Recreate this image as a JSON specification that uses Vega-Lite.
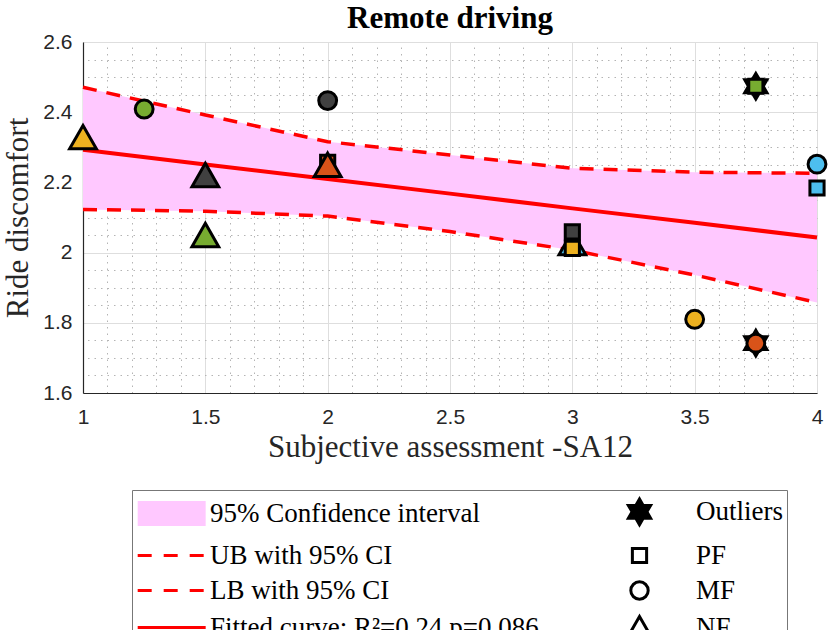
{
  "$schema": "https://vega.github.io/schema/vega-lite/v6.json",
  "width": 734,
  "height": 351,
  "autosize": {"type": "none"},
  "padding": {"left": 83, "top": 42, "right": 13, "bottom": 237},
  "background": "white",
  "title": {
    "text": "Remote driving",
    "font": "Liberation Serif",
    "fontSize": 31,
    "fontWeight": "bold",
    "color": "black",
    "anchor": "middle",
    "offset": -4
  },
  "datasets": {
    "band": [
      {"sa": 1.0, "ub": 2.471, "lb": 2.123, "fit": 2.293},
      {"sa": 1.5, "ub": 2.392, "lb": 2.118, "fit": 2.251},
      {"sa": 2.0, "ub": 2.316, "lb": 2.104, "fit": 2.210},
      {"sa": 2.5, "ub": 2.278, "lb": 2.060, "fit": 2.168},
      {"sa": 3.0, "ub": 2.240, "lb": 2.007, "fit": 2.126},
      {"sa": 3.5, "ub": 2.229, "lb": 1.936, "fit": 2.085},
      {"sa": 4.0, "ub": 2.226, "lb": 1.858, "fit": 2.043}
    ],
    "obs": [
      {"sa": 1.25, "rd": 2.409, "type": "MF", "participant": "P1", "outlier": false},
      {"sa": 1.5, "rd": 2.050, "type": "NF", "participant": "P1", "outlier": false},
      {"sa": 3.75, "rd": 2.474, "type": "PF", "participant": "P1", "outlier": true},
      {"sa": 2.0, "rd": 2.433, "type": "MF", "participant": "P2", "outlier": false},
      {"sa": 1.5, "rd": 2.221, "type": "NF", "participant": "P2", "outlier": false},
      {"sa": 1.0, "rd": 2.329, "type": "NF", "participant": "P3", "outlier": false},
      {"sa": 2.0, "rd": 2.257, "type": "PF", "participant": "P4", "outlier": false},
      {"sa": 2.0, "rd": 2.250, "type": "NF", "participant": "P4", "outlier": false},
      {"sa": 3.0, "rd": 2.027, "type": "NF", "participant": "P5", "outlier": false},
      {"sa": 3.0, "rd": 2.059, "type": "PF", "participant": "P2", "outlier": false},
      {"sa": 3.0, "rd": 2.012, "type": "PF", "participant": "P3", "outlier": false},
      {"sa": 3.5, "rd": 1.810, "type": "MF", "participant": "P3", "outlier": false},
      {"sa": 3.75, "rd": 1.742, "type": "MF", "participant": "P4", "outlier": true},
      {"sa": 4.0, "rd": 2.252, "type": "MF", "participant": "P5", "outlier": false},
      {"sa": 4.0, "rd": 2.184, "type": "PF", "participant": "P5", "outlier": false}
    ]
  },
  "layer": [
    {
      "data": {"name": "band"},
      "mark": {"type": "area", "color": "#ffc8ff", "opacity": 1},
      "encoding": {
        "x": {
          "field": "sa",
          "type": "quantitative",
          "scale": {"domain": [1, 4], "nice": false, "zero": false},
          "axis": {
            "orient": "top",
            "values": [1.1, 1.2, 1.3, 1.4, 1.6, 1.7, 1.8, 1.9, 2.1, 2.2, 2.3, 2.4, 2.6, 2.7, 2.8, 2.9, 3.1, 3.2, 3.3, 3.4, 3.6, 3.7, 3.8, 3.9],
            "labels": false,
            "ticks": false,
            "domain": false,
            "title": null,
            "grid": true,
            "gridColor": "#b4b4b4",
            "gridDash": [1.5, 5],
            "gridWidth": 1,
            "zindex": 0
          }
        },
        "y": {
          "field": "lb",
          "type": "quantitative",
          "scale": {"domain": [1.6, 2.6], "nice": false, "zero": false},
          "axis": {
            "orient": "right",
            "values": [1.65, 1.7, 1.75, 1.85, 1.9, 1.95, 2.05, 2.1, 2.15, 2.25, 2.3, 2.35, 2.45, 2.5, 2.55],
            "labels": false,
            "ticks": false,
            "domain": false,
            "title": null,
            "grid": true,
            "gridColor": "#b4b4b4",
            "gridDash": [1.5, 5],
            "gridWidth": 1,
            "zindex": 0
          }
        },
        "y2": {"field": "ub"}
      }
    },
    {
      "data": {"name": "band"},
      "mark": {"type": "line", "color": "#ff0000", "strokeWidth": 3.5, "strokeDash": [14, 10]},
      "encoding": {
        "x": {
          "field": "sa",
          "type": "quantitative",
          "axis": {
            "orient": "bottom",
            "values": [1, 1.5, 2, 2.5, 3, 3.5, 4],
            "format": "~g",
            "title": "Subjective assessment -SA12",
            "grid": true,
            "gridColor": "#dedede",
            "gridWidth": 1,
            "ticks": false,
            "tickSize": 0,
            "labelPadding": 13,
            "labelFlush": false,
            "labelFont": "Liberation Sans",
            "labelFontSize": 21,
            "labelColor": "#262626",
            "titleFont": "Liberation Serif",
            "titleFontSize": 31,
            "titleFontWeight": "normal",
            "titleColor": "#262626",
            "titlePadding": 5,
            "domainColor": "#262626",
            "domainWidth": 1.2,
            "zindex": 0
          }
        },
        "y": {
          "field": "ub",
          "type": "quantitative",
          "axis": {
            "orient": "left",
            "values": [1.6, 1.8, 2, 2.2, 2.4, 2.6],
            "format": "~g",
            "title": "Ride discomfort",
            "grid": true,
            "gridColor": "#dedede",
            "gridWidth": 1,
            "ticks": false,
            "tickSize": 0,
            "labelPadding": 11,
            "labelFlush": false,
            "labelFont": "Liberation Sans",
            "labelFontSize": 21,
            "labelColor": "#262626",
            "titleFont": "Liberation Serif",
            "titleFontSize": 31,
            "titleFontWeight": "normal",
            "titleColor": "#262626",
            "titlePadding": 8,
            "domainColor": "#262626",
            "domainWidth": 1.2,
            "zindex": 0
          }
        }
      }
    },
    {
      "data": {"name": "band"},
      "mark": {"type": "line", "color": "#ff0000", "strokeWidth": 3.5, "strokeDash": [14, 10]},
      "encoding": {
        "x": {"field": "sa", "type": "quantitative", "axis": null},
        "y": {"field": "lb", "type": "quantitative", "axis": null}
      }
    },
    {
      "data": {"name": "band"},
      "mark": {"type": "line", "color": "#ff0000", "strokeWidth": 4},
      "encoding": {
        "x": {"field": "sa", "type": "quantitative", "axis": null},
        "y": {"field": "fit", "type": "quantitative", "axis": null}
      }
    },
    {
      "data": {"name": "obs"},
      "transform": [{"filter": "datum.outlier"}],
      "mark": {
        "type": "point",
        "filled": true,
        "color": "black",
        "opacity": 1,
        "size": 1000,
        "strokeWidth": 0,
        "shape": "M0,-1L0.289,-0.5L0.866,-0.5L0.577,0L0.866,0.5L0.289,0.5L0,1L-0.289,0.5L-0.866,0.5L-0.577,0L-0.866,-0.5L-0.289,-0.5Z"
      },
      "encoding": {
        "x": {"field": "sa", "type": "quantitative", "axis": null},
        "y": {"field": "rd", "type": "quantitative", "axis": null}
      }
    },
    {
      "data": {"name": "obs"},
      "mark": {"type": "point", "filled": true, "opacity": 1},
      "encoding": {
        "x": {"field": "sa", "type": "quantitative", "axis": null},
        "y": {"field": "rd", "type": "quantitative", "axis": null},
        "fill": {
          "field": "participant",
          "type": "nominal",
          "scale": {"domain": ["P1", "P2", "P3", "P4", "P5"], "range": ["#77ac30", "#404040", "#edb120", "#d95319", "#4dbeee"]},
          "legend": null
        },
        "stroke": {
          "field": "participant",
          "type": "nominal",
          "scale": {"domain": ["P1", "P2", "P3", "P4", "P5"], "range": ["black", "black", "black", "black", "black"]},
          "legend": null
        },
        "strokeWidth": {"value": 3},
        "size": {
          "field": "type",
          "type": "ordinal",
          "scale": {"domain": ["PF", "MF", "NF"], "range": [990, 1120, 900]},
          "legend": null
        },
        "shape": {
          "field": "type",
          "type": "nominal",
          "scale": {
            "domain": ["95% Confidence interval", "UB with 95% CI", "LB with 95% CI", "Fitted curve: R²=0.24,p=0.086", "Outliers", "PF", "MF", "NF"],
            "range": [
              "M-1,-0.79L3.3,-0.79L3.3,0.79L-1,0.79Z",
              "M-1,0L3.3,0",
              "M-1,0L3.3,0",
              "M-1,0L3.3,0",
              "M0,-1L0.289,-0.5L0.866,-0.5L0.577,0L0.866,0.5L0.289,0.5L0,1L-0.289,0.5L-0.866,0.5L-0.577,0L-0.866,-0.5L-0.289,-0.5Z",
              "M-0.45,-0.45L0.45,-0.45L0.45,0.45L-0.45,0.45Z",
              "M0.55,0A0.55,0.55,0,1,1,-0.55,0A0.55,0.55,0,1,1,0.55,0Z",
              "M0,-0.7L0.8,0.7L-0.8,0.7Z"
            ]
          },
          "legend": {
            "title": null,
            "orient": "none",
            "legendX": 49,
            "legendY": 448,
            "columns": 2,
            "columnPadding": 80,
            "rowPadding": 4,
            "padding": 4,
            "strokeColor": "#777777",
            "fillColor": "white",
            "symbolOpacity": 1,
            "symbolSize": 1000,
            "symbolStrokeWidth": 3,
            "symbolFillColor": {"expr": "datum.value === 'Outliers' ? 'black' : datum.value === '95% Confidence interval' ? '#ffc8ff' : 'transparent'"},
            "symbolStrokeColor": {"expr": "indexof(datum.value, 'with 95') >= 0 || indexof(datum.value, 'Fitted') >= 0 ? '#ff0000' : (datum.value === 'Outliers' || datum.value === '95% Confidence interval') ? 'transparent' : 'black'"},
            "symbolDash": {"expr": "indexof(datum.value, 'with 95') >= 0 ? [14, 12] : []"},
            "labelFont": "Liberation Serif",
            "labelFontSize": 27,
            "labelColor": "black",
            "labelLimit": 0,
            "labelOffset": 39,
            "labelBaseline": "middle"
          }
        }
      }
    }
  ],
  "resolve": {"axis": {"x": "independent", "y": "independent"}},
  "config": {
    "view": {"stroke": "#d6d6d6", "strokeWidth": 1}
  }
}
